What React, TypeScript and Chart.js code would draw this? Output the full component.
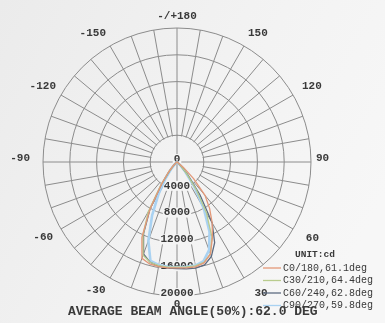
import React, { useEffect, useRef } from "react";
import { Chart, registerables } from "chart.js";

Chart.register(...registerables);

// gamma angles (deg) of the measured C-plane pairs, lower hemisphere
const GAMMA = [-90, -85, -80, -75, -70, -65, -60, -55, -50, -45, -40, -35, -30, -25, -20, -15, -10, -5, 0, 5, 10, 15, 20, 25, 30, 35, 40, 45, 50, 55, 60, 65, 70, 75, 80, 85, 90];

const C0_180 = [0, 0, 0, 0, 0, 0, 30, 100, 350, 900, 2000, 4000, 8000, 12400, 15300, 15750, 15850, 15850, 15800, 15850, 15900, 15600, 14600, 12500, 10500, 8500, 6500, 3500, 1200, 300, 50, 0, 0, 0, 0, 0, 0];
const C30_210 = [0, 0, 0, 0, 0, 0, 0, 50, 200, 700, 1800, 4200, 8600, 12000, 14800, 15500, 15700, 15750, 15700, 15700, 15750, 15500, 14600, 12300, 8800, 5000, 2200, 800, 250, 50, 0, 0, 0, 0, 0, 0, 0];
const C60_240 = [0, 0, 0, 0, 0, 0, 0, 50, 200, 600, 1700, 4000, 8000, 11800, 14600, 15500, 15800, 15900, 15900, 16000, 16100, 15900, 15000, 13300, 10500, 6000, 2500, 900, 300, 80, 0, 0, 0, 0, 0, 0, 0];
const C90_270 = [0, 0, 0, 0, 0, 0, 0, 0, 100, 450, 1300, 3000, 5500, 8800, 12500, 15300, 15600, 15700, 15700, 15700, 15700, 15300, 14000, 11500, 8000, 4500, 2000, 700, 200, 0, 0, 0, 0, 0, 0, 0, 0];

const SERIES_NAMES = ["C0/180,61.1deg", "C30/210,64.4deg", "C60/240,62.8deg", "C90/270,59.8deg"];
const SERIES_COLORS = ["#e39878", "#b9cc8e", "#5d6b80", "#a9d2f2"];
const SERIES_WIDTHS = [1.3, 1.3, 1.3, 2.6];

const R_MAX = 20000;
const R_STEP = 4000;
const ANGLE_STEP = 5; // resolution of the radar categories
const LABEL_EVERY = 30; // labelled angles
const SPOKE_EVERY = 10; // grid spokes
const UNIT_TEXT = "UNIT:cd";
const FOOTER_TEXT = "AVERAGE BEAM ANGLE(50%):62.0 DEG";

// small typographic nudges for the angle labels [dx, dy]
const LABEL_NUDGE: Record<string, [number, number]> = {
  "0": [0, -5],
  "30": [6, 3],
  "60": [5, 1],
  "90": [-3, -2],
  "-90": [-5, -2],
  "120": [2, 1],
  "-120": [2, 1],
  "180": [0, 2],
};

const N = 360 / ANGLE_STEP;
const angleOf = (i: number) => {
  let a = -ANGLE_STEP * i;
  if (a <= -180) a += 360;
  return a;
};
const CATEGORIES = Array.from({ length: N }, (_, i) => {
  const a = angleOf(i);
  return a === 180 ? "-/+180" : String(a);
});

function toRadar(series: number[]) {
  return CATEGORIES.map((_, i) => {
    const a = angleOf(i);
    const k = GAMMA.indexOf(a);
    return k >= 0 ? series[k] : 0;
  });
}

const GRID = "#8c8c8c";
const TEXT = "#3a3a3a";
const FONT = '"Liberation Mono", "DejaVu Sans Mono", monospace';

function makeBg(ctx: CanvasRenderingContext2D, w: number, h: number) {
  const g = ctx.createLinearGradient(0, 0, w, h * 0.6);
  g.addColorStop(0, "#ebebeb");
  g.addColorStop(0.6, "#f3f3f3");
  g.addColorStop(1, "#f7f7f7");
  return g;
}

const polarPlugin = {
  id: "polarDecor",
  beforeDraw(chart: any) {
    const { ctx, width, height } = chart;
    ctx.save();
    ctx.fillStyle = makeBg(ctx, width, height);
    ctx.fillRect(0, 0, width, height);
    ctx.restore();
  },
  beforeDatasetsDraw(chart: any) {
    const { ctx, width, height } = chart;
    const s = chart.scales.r;
    const xc = s.xCenter;
    const yc = s.yCenter;
    const r1 = s.getDistanceFromCenterForValue(R_STEP);
    ctx.save();
    // clear spokes inside the first ring
    ctx.fillStyle = makeBg(ctx, width, height);
    ctx.beginPath();
    ctx.arc(xc, yc, r1 - 0.8, 0, Math.PI * 2);
    ctx.fill();
    ctx.strokeStyle = GRID;
    ctx.lineWidth = 1;
    ctx.beginPath();
    ctx.moveTo(xc - r1, yc);
    ctx.lineTo(xc + r1, yc);
    ctx.moveTo(xc, yc - r1);
    ctx.lineTo(xc, yc + r1);
    ctx.stroke();
    // ring value labels along the 0° direction
    ctx.font = `bold 11px ${FONT}`;
    ctx.textAlign = "center";
    ctx.textBaseline = "middle";
    s.ticks.forEach((t: any) => {
      const p = s.getPointPosition(0, s.getDistanceFromCenterForValue(t.value));
      const label = String(t.value);
      const tw = ctx.measureText(label).width;
      const y = p.y - 3;
      ctx.fillStyle = "#f4f4f4";
      ctx.fillRect(p.x - tw / 2 - 1, y - 5, tw + 2, 10);
      ctx.fillStyle = TEXT;
      ctx.fillText(label, p.x, y);
    });
    ctx.restore();
  },
  afterDraw(chart: any) {
    const { ctx } = chart;
    const s = chart.scales.r;
    ctx.save();
    ctx.font = `bold 11px ${FONT}`;
    ctx.fillStyle = TEXT;
    ctx.textAlign = "center";
    ctx.textBaseline = "middle";
    const hh = 4;
    CATEGORIES.forEach((lab, i) => {
      const a = angleOf(i);
      if (a % LABEL_EVERY !== 0) return;
      const bottom = Math.abs(a) < 90;
      const p = s.getPointPosition(i, s.drawingArea + (bottom ? 9 : 8));
      const dx = p.x - s.xCenter;
      const dy = p.y - s.yCenter;
      const w = ctx.measureText(lab).width;
      const sx = Math.abs(dx) < 1 ? 0 : Math.sign(dx) * w / 2;
      const sy = Math.abs(dy) < 1 ? 0 : Math.sign(dy) * hh;
      const nudge = LABEL_NUDGE[String(a)] || [0, 0];
      ctx.fillText(lab, p.x + sx + nudge[0], p.y + sy + (bottom ? 0 : -2) + nudge[1]);
    });
    // legend
    const lx = 263;
    const ly = 255;
    ctx.textAlign = "left";
    ctx.font = `bold 9.5px ${FONT}`;
    ctx.fillText(UNIT_TEXT, 295, ly);
    ctx.font = `10px ${FONT}`;
    chart.data.datasets.forEach((ds: any, k: number) => {
      const y = ly + 13 + k * 12.5;
      ctx.strokeStyle = ds.borderColor;
      ctx.lineWidth = 1.3;
      ctx.beginPath();
      ctx.moveTo(lx, y);
      ctx.lineTo(lx + 18, y);
      ctx.stroke();
      ctx.fillStyle = TEXT;
      ctx.fillText(ds.label, lx + 20, y);
    });
    // footer
    ctx.font = `bold 13px ${FONT}`;
    ctx.textAlign = "left";
    ctx.fillStyle = TEXT;
    ctx.fillText(FOOTER_TEXT, 68, 312);
    ctx.restore();
  },
};

export default function App() {
  const ref = useRef<HTMLCanvasElement | null>(null);
  useEffect(() => {
    if (!ref.current) return;
    const seriesList = [C0_180, C30_210, C60_240, C90_270];
    const chart = new Chart(ref.current, {
      type: "radar",
      data: {
        labels: CATEGORIES,
        datasets: seriesList.map((ser, k) => ({
          label: SERIES_NAMES[k],
          data: toRadar(ser),
          borderColor: SERIES_COLORS[k],
          backgroundColor: "transparent",
          borderWidth: SERIES_WIDTHS[k],
          pointRadius: 0,
          fill: false,
          tension: 0,
          order: k === 3 ? 10 : k,
        })),
      },
      options: {
        animation: false,
        responsive: false,
        devicePixelRatio: 1,
        layout: { padding: { left: 43, right: 74, top: 28, bottom: 27 } },
        plugins: { legend: { display: false }, tooltip: { enabled: false } },
        scales: {
          r: {
            min: 0,
            max: R_MAX,
            startAngle: 180,
            ticks: { stepSize: R_STEP, display: false },
            pointLabels: { display: false },
            grid: { circular: true, color: GRID, lineWidth: 1 },
            angleLines: {
              display: true,
              color: (c: any) => (angleOf(c.index) % SPOKE_EVERY === 0 ? GRID : "rgba(0,0,0,0)"),
              lineWidth: 1,
            },
          },
        },
      },
      plugins: [polarPlugin],
    });
    return () => chart.destroy();
  }, []);
  return (
    <div style={{ position: "absolute", left: 0, top: 0, width: 385, height: 323 }}>
      <canvas ref={ref} width={385} height={323} style={{ display: "block" }} />
    </div>
  );
}
